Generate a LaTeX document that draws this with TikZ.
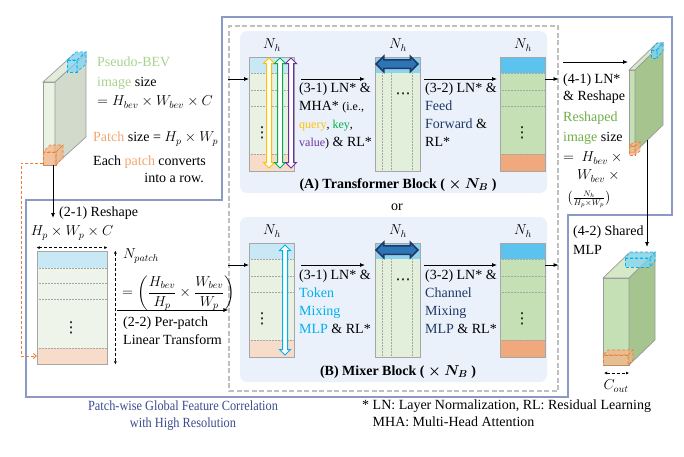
\documentclass[tikz,border=0pt]{standalone}
\usepackage{amsmath}
\usepackage{fontspec}
\setmainfont{Liberation Serif}
\newfontfamily\narrowserif[FakeStretch=0.88]{Liberation Serif}
\newfontfamily\dotsfont{DejaVu Sans}
\usetikzlibrary{arrows.meta,shapes.arrows}

\definecolor{framecol}{HTML}{8C99C4}
\definecolor{panelcol}{HTML}{EAF1FA}
\definecolor{boxgray}{HTML}{BFBFBF}
\definecolor{cellline}{HTML}{A6A6A6}
\definecolor{bluel}{HTML}{C8E8F6}
\definecolor{greenl}{HTML}{E9F2E2}
\definecolor{matgreen}{HTML}{EEF4EA}
\definecolor{orangel}{HTML}{F7DCCA}
\definecolor{bluem}{HTML}{8DD2EE}
\definecolor{greenm}{HTML}{E2EFDA}
\definecolor{blued}{HTML}{5BC3EE}
\definecolor{greend}{HTML}{C5E0B4}
\definecolor{oranged}{HTML}{EFA97C}
\definecolor{querycol}{HTML}{FFC000}
\definecolor{keycol}{HTML}{00B050}
\definecolor{valuecol}{HTML}{7030A0}
\definecolor{tokencol}{HTML}{00B0F0}
\definecolor{navy}{HTML}{203864}
\definecolor{darrowfill}{HTML}{2E75B6}
\definecolor{beigreen}{HTML}{A9D18E}
\definecolor{reshgreen}{HTML}{70AD47}
\definecolor{patchor}{HTML}{F4A46E}
\definecolor{patchdark}{HTML}{ED7D31}
\definecolor{captioncol}{HTML}{3B4B8C}
\definecolor{slabline}{HTML}{9A9A9A}
\definecolor{slabfront}{HTML}{EAF2E3}
\definecolor{slabtop}{HTML}{E3EBDC}
\definecolor{slabside}{HTML}{D2DBCB}
\definecolor{reshtop}{HTML}{D5E8C8}
\definecolor{reshside}{HTML}{A5C48E}
\definecolor{cyanfill}{HTML}{7FD3F5}
\definecolor{orangefill}{HTML}{F4B183}

\newcommand{\smalltxt}[1]{{\fontsize{12}{18}\selectfont#1}}
% options, front, top, side, x, y, width, height, depth
\newcommand{\cuboid}[9]{%
  \filldraw[#1, fill=#2] (#5,#6) rectangle ++(#7,#8);
  \filldraw[#1, fill=#3] (#5,#6) -- ++(#7,0) -- ++#9 -- ++(-#7,0) -- cycle;
  \filldraw[#1, fill=#4] (#5+#7,#6) -- ++#9 -- ++(0,#8) -- (#5+#7,#6+#8) -- cycle;
}

\begin{document}
\begin{tikzpicture}[x=1pt, y=-1pt,
  font=\fontsize{14}{16}\selectfont,
  conn/.style={-{Latex[length=5pt,width=4pt]}, line width=0.8pt},
  dimarrow/.style={{Latex[length=3pt,width=3pt]}-{Latex[length=3pt,width=3pt]}, densely dashed, line width=0.6pt},
  patchlink/.style={-{Straight Barb[length=3pt,width=5pt]}, draw=patchdark, densely dashed, line width=0.9pt},
  lbl/.style={anchor=west, inner sep=0pt},
  dots/.style={inner sep=0pt, font=\dotsfont\fontsize{15}{15}\selectfont},
  blocktext/.style={anchor=north west, align=left, inner sep=0pt, font=\fontsize{14}{18}\selectfont},
  blockname/.style={font=\fontsize{14}{16}\selectfont\bfseries\boldmath},
  cellrule/.style={draw=cellline, densely dotted, line width=0.5pt},
  celledge/.style={draw=cellline, line width=0.8pt},
  slabedge/.style={draw=slabline, line width=0.7pt},
  cyanbox/.style={draw=tokencol, densely dashed, line width=0.6pt, fill opacity=0.7},
  orangebox/.style={draw=patchdark, densely dashed, line width=0.6pt, fill opacity=0.7},
  vdarrow/.style={double arrow, draw=#1, fill=white, line width=1pt, inner xsep=0pt, inner ysep=2pt,
    double arrow head extend=3pt, minimum height=110pt, rotate=90},
  hdarrow/.style={double arrow, draw=navy, fill=darrowfill, line width=1.5pt, inner xsep=0pt, inner ysep=3.5pt,
    double arrow head extend=3.5pt, minimum height=42pt}]

	\useasboundingbox (0,0) rectangle (684,456);

	\draw [framecol, line width=1.3pt] (26,397) -- (26,200) -- (222,200) -- (222,17) -- (672,17) -- (672,215) -- (568,215) -- (568,397) -- cycle;
	\node [draw=boxgray, dash pattern=on 5pt off 2.5pt, line width=1.1pt, minimum width=329pt, minimum height=365pt, inner sep=0pt] (blockbox) at (393.5,208.5) {};
	\fill [panelcol, rounded corners=7pt] (240,31) rectangle (547,193);
	\fill [panelcol, rounded corners=7pt] (240,217) rectangle (547,382);

	% token columns of both blocks
	\foreach \y/\blk in {57/ta, 243/mb} {
		\fill [bluel] (249,\y) rectangle (294,\y+16);
		\fill [greenl] (249,\y+16) rectangle (294,\y+97);
		\fill [orangel] (249,\y+97) rectangle (294,\y+114);
		\fill [bluem] (375,\y) rectangle (420,\y+16);
		\fill [greenm] (375,\y+16) rectangle (420,\y+114);
		\fill [blued] (500,\y) rectangle (545,\y+16);
		\fill [greend] (500,\y+16) rectangle (545,\y+97);
		\fill [oranged] (500,\y+97) rectangle (545,\y+114);
		\foreach \r in {16,33,49,97} {
			\draw [cellrule] (249,\y+\r) -- (294,\y+\r);
			\draw [cellrule] (500,\y+\r) -- (545,\y+\r);
		}
		\foreach \c in {382,391,412}
			\draw [cellrule] (\c,\y+16) -- (\c,\y+114);
		\foreach \c in {249,375,500}
			\draw [celledge] (\c,\y) rectangle (\c+45,\y+114);
		\node (\blk nh1) at (272,\y-12) {$N_h$};
		\node (\blk nh2) at (398,\y-12) {$N_h$};
		\node (\blk nh3) at (523,\y-12) {$N_h$};
		\node [dots] (\blk dots1) at (262,\y+76) {⋮};
		\node [dots] (\blk dots2) at (403,\y+39) {⋯};
		\node [dots] (\blk dots3) at (522,\y+76) {⋮};
		\node [hdarrow] (\blk mix) at (397,\y+7) {};
		\coordinate (\blk in) at (249,\y+22);
		\coordinate (\blk s1) at (301,\y+22);
		\coordinate (\blk e1) at (365,\y+22);
		\coordinate (\blk s2) at (424,\y+22);
		\coordinate (\blk e2) at (497,\y+22);
		\coordinate (\blk out) at (545,\y+22);
		\draw [conn] (blockbox.west |- \blk in) -- (\blk in);
		\draw [conn] (\blk s1) -- (\blk e1);
		\draw [conn] (\blk s2) -- (\blk e2);
		\draw [conn] (\blk out) -- (blockbox.east |- \blk out);
	}
	\node [vdarrow=querycol] (query) at (269,113) {};
	\node [vdarrow=keycol] (key) at (280,113) {};
	\node [vdarrow=valuecol] (value) at (291,113) {};
	\node [vdarrow=tokencol] (token) at (285,300) {};

	\node [blocktext] (mha) at (299,83) {(3-1) LN* \&\\MHA* \smalltxt{(i.e.,}\\\smalltxt{{\color{querycol}query}, {\color{keycol}key},}\\\smalltxt{{\color{valuecol}value})} \& RL*};
	\node [blocktext] (ffn) at (425,83) {(3-2) LN* \&\\{\color{navy}Feed}\\{\color{navy}Forward} \&\\RL*};
	\node [blockname] (tblock) at (398,185) {(A) Transformer Block ( $\times$ $N_B$ )};
	\node (or) at (397,207) {or};
	\node [blocktext] (tokmlp) at (299,270) {(3-1) LN* \&\\{\color{tokencol}Token}\\{\color{tokencol}Mixing}\\{\color{tokencol}MLP} \& RL*};
	\node [blocktext] (chmlp) at (425,270) {(3-2) LN* \&\\{\color{navy}Channel}\\{\color{navy}Mixing}\\{\color{navy}MLP} \& RL*};
	\node [blockname] (mblock) at (398,372) {(B) Mixer Block ( $\times$ $N_B$ )};

	% pseudo-BEV image and patch
	\cuboid{slabedge}{slabfront}{slabtop}{slabside}{43}{82}{12}{83}{(31,-28)}
	\cuboid{cyanbox}{cyanfill}{cyanfill}{cyanfill}{67}{60}{10}{12}{(9,-8)}
	\cuboid{orangebox}{orangefill}{orangefill}{orangefill}{43}{152}{13}{13}{(7,-7)}
	\node [lbl] (bev) at (97,62) {\color{beigreen}Pseudo-BEV};
	\node [lbl] (bevsize) at (97,83) {{\color{beigreen}image} size};
	\node [lbl] (bevdim) at (97,102) {$= H_{bev} \times W_{bev} \times C$};
	\node [lbl] (psize) at (93,139) {{\color{patchor}Patch} size = $H_p \times W_p$};
	\node [lbl] (prow) at (93,162) {Each {\color{patchor}patch} converts};
	\node [anchor=east, inner sep=0pt] (prow2) at (204,178) {into a row.};

	\coordinate (patchcorner) at (53,165);
	\coordinate (reshapein) at (53,218);
	\draw [conn] (patchcorner) -- (reshapein);
	\node [lbl] (reshape) at (59,213) {(2-1) Reshape};

	% patch matrix
	\fill [bluel] (37,251) rectangle (107,268);
	\fill [matgreen] (37,268) rectangle (107,348);
	\fill [orangel] (37,348) rectangle (107,364);
	\foreach \r in {268,283,299,348}
		\draw [cellrule] (37,\r) -- (107,\r);
	\node [draw=cellline, line width=0.8pt, minimum width=70pt, minimum height=113pt, inner sep=0pt] (patchmat) at (72,307.5) {};
	\node [dots] (matdots) at (71,328) {⋮};
	\draw [dimarrow] ([yshift=3pt]patchmat.north west) -- ([yshift=3pt]patchmat.north east);
	\draw [dimarrow] ([xshift=8pt]patchmat.north east) -- ([xshift=8pt]patchmat.south east);
	\node (hpwp) at (72,233) {$H_p \times W_p \times C$};
	\node [lbl] (npatch) at (123,256) {$N_{patch}$};
	\node [lbl] (nformula) at (122,293) {$= \biggl(\dfrac{H_{bev}}{H_p} \times \dfrac{W_{bev}}{W_p}\biggr)$};
	\node [blocktext] (linear) at (123,317) {(2-2) Per-patch\\Linear Transform};

	\coordinate (patchsrc) at (43,163);
	\coordinate (patchrowin) at (37,356);
	\draw [patchlink] (patchsrc) -- ++(-22,0) |- (patchrowin);
	\coordinate (linin) at (117,310);
	\draw [conn] (linin) -- (blockbox.west |- linin);

	% reshaped image
	\coordinate (resin) at (563,62);
	\coordinate (resslab) at (628,62);
	\draw [conn] (resin) -- (resslab);
	\cuboid{slabedge}{greend}{reshtop}{reshside}{629}{70}{6}{82}{(28,-27)}
	\cuboid{cyanbox}{cyanfill}{cyanfill}{cyanfill}{651}{50}{6}{8}{(6,-7)}
	\cuboid{orangebox}{orangefill}{orangefill}{orangefill}{629}{146}{6}{9}{(5,-4)}
	\node [lbl] (ln4) at (563,80) {(4-1) LN*};
	\node [lbl] (resh4) at (563,97) {\& Reshape};
	\node [lbl] (reshimg) at (563,118) {\color{reshgreen}Reshaped};
	\node [lbl] (reshsize) at (563,138) {{\color{reshgreen}image} size};
	\node [lbl] (reshdim1) at (563,158) {$= \ H_{bev} \times{}$};
	\node [lbl] (reshdim2) at (577,176) {$W_{bev} \times{}$};
	\node [lbl, font=\fontsize{12}{12}\selectfont] (reshdim3) at (567,199) {$\bigl(\frac{N_h}{H_p \times W_p}\bigr)$};

	% shared MLP output
	\coordinate (mlpsrc) at (647,140);
	\coordinate (mlpdst) at (647,247);
	\draw [conn] (mlpsrc) -- (mlpdst);
	\node [lbl] (shared) at (573,232) {(4-2) Shared};
	\node [lbl] (mlp) at (573,250) {MLP};
	\cuboid{slabedge}{greend}{reshtop}{reshside}{603}{278}{26}{87}{(26,-25)}
	\cuboid{cyanbox}{cyanfill}{cyanfill}{cyanfill}{625}{258}{25}{9}{(5,-6)}
	\cuboid{orangebox}{orangefill}{orangefill}{orangefill}{603}{355}{25}{10}{(5,-5)}
	\coordinate (coutl) at (604,373);
	\coordinate (coutr) at (629,373);
	\draw [dimarrow] (coutl) -- (coutr);
	\node (cout) at (616,386) {$C_{out}$};

	\node [text=captioncol, align=center, font=\narrowserif\fontsize{14}{17}\selectfont] (caption) at (183,416) {Patch-wise Global Feature Correlation\\with High Resolution};
	\node [anchor=north west, align=left, inner sep=0pt, font=\fontsize{14}{17}\selectfont] (notes) at (362,400) {* LN: Layer Normalization, RL: Residual Learning\\\hphantom{* }MHA: Multi-Head Attention};
\end{tikzpicture}
\end{document}
